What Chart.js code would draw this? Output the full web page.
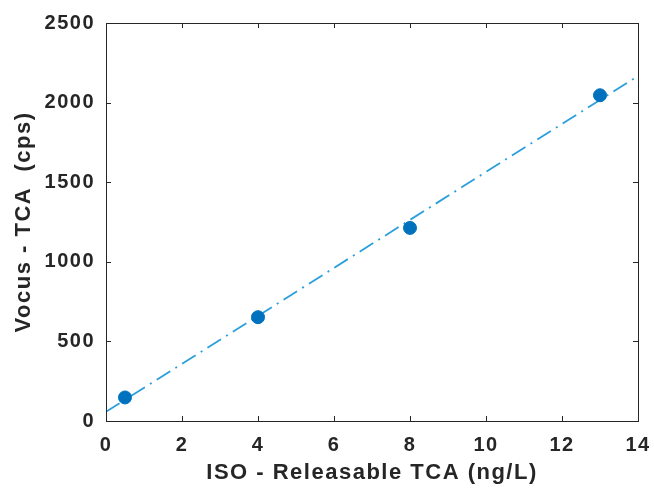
<!DOCTYPE html>
<html>
<head>
<meta charset="utf-8">
<script src="https://cdn.jsdelivr.net/npm/chart.js@4/dist/chart.umd.min.js"></script>
<style>
  html, body { margin: 0; padding: 0; background: #fff; }
  #wrap { width: 654px; height: 488px; }
</style>
</head>
<body>
<div id="wrap"><canvas id="chart" width="654" height="488"></canvas></div>
<script>
// measured points
const isoTca = [0.5, 4, 8, 13];
const vocusTca = [148, 652, 1213, 2046];

// fitted line, end points
const fitX = [0, 14];
const fitY = [58, 2167];

const xTicks = [0, 2, 4, 6, 8, 10, 12, 14];
const yTicks = [0, 500, 1000, 1500, 2000, 2500];

const axisColor = '#262626';
const family = '"Liberation Sans", Arial, sans-serif';
const tickFont = { family: family, size: 20, weight: 'bold' };
const titleFont = { family: family, size: 22, weight: 'bold' };

// text in the reference is set a little loose
const spacingPlugin = {
    id: 'spacing',
    beforeInit(chart) { chart.ctx.letterSpacing = '1.5px'; },
    beforeDraw(chart) { chart.ctx.letterSpacing = '1.5px'; },
};

// MATLAB style box with inward ticks on all four sides
const boxPlugin = {
    id: 'box',
    afterDraw(chart) {
        const { ctx, chartArea: a, scales } = chart;
        const len = 5;
        ctx.save();
        ctx.strokeStyle = axisColor;
        ctx.lineWidth = 1;
        ctx.beginPath();
        xTicks.forEach(v => {
            const px = Math.round(scales.x.getPixelForValue(v)) + 0.5;
            ctx.moveTo(px, a.bottom);
            ctx.lineTo(px, a.bottom - len);
            ctx.moveTo(px, a.top);
            ctx.lineTo(px, a.top + len);
        });
        yTicks.forEach(v => {
            const py = Math.round(scales.y.getPixelForValue(v)) + 0.5;
            ctx.moveTo(a.left, py);
            ctx.lineTo(a.left + len, py);
            ctx.moveTo(a.right, py);
            ctx.lineTo(a.right - len, py);
        });
        ctx.stroke();
        ctx.strokeRect(Math.round(a.left) + 0.5, Math.round(a.top) + 0.5,
            Math.round(a.right - a.left), Math.round(a.bottom - a.top));
        ctx.restore();
    }
};

new Chart(document.getElementById('chart'), {
    type: 'scatter',
    data: {
        datasets: [
            {
                label: 'data',
                data: isoTca.map((x, i) => ({ x: x, y: vocusTca[i] })),
                backgroundColor: '#0072BD',
                borderColor: '#0072BD',
                pointRadius: 6.5,
                pointHoverRadius: 6.5,
                order: 0,
            },
            {
                label: 'fit',
                data: fitX.map((x, i) => ({ x: x, y: fitY[i] })),
                showLine: true,
                borderColor: '#2B9FDC',
                borderWidth: 1.8,
                borderDash: [16, 6, 2, 6],
                pointRadius: 0,
                order: 1,
            },
        ],
    },
    options: {
        responsive: false,
        animation: false,
        layout: { padding: { top: 23, right: 16, left: 0, bottom: 0 } },
        plugins: {
            legend: { display: false },
            tooltip: { enabled: false },
        },
        scales: {
            x: {
                type: 'linear',
                min: 0,
                max: 14,
                afterBuildTicks: s => { s.ticks = xTicks.map(v => ({ value: v })); },
                afterFit: s => { s.height = 67; s.paddingLeft = 0; s.paddingRight = 0; },
                grid: { display: false, drawTicks: false },
                border: { display: false },
                ticks: { color: axisColor, font: tickFont, padding: 12, maxRotation: 0, callback: v => String(v) },
                title: {
                    display: true,
                    text: 'ISO - Releasable TCA (ng/L)',
                    color: axisColor,
                    font: titleFont,
                    padding: { top: 0, bottom: 2 },
                },
            },
            y: {
                type: 'linear',
                min: 0,
                max: 2500,
                afterBuildTicks: s => { s.ticks = yTicks.map(v => ({ value: v })); },
                afterFit: s => { s.width = 106; s.paddingTop = 0; s.paddingBottom = 0; },
                grid: { display: false, drawTicks: false },
                border: { display: false },
                ticks: { color: axisColor, font: tickFont, padding: 11, callback: v => String(v) },
                title: {
                    display: true,
                    text: 'Vocus - TCA  (cps)',
                    color: axisColor,
                    font: titleFont,
                    padding: { top: 11, bottom: 0 },
                },
            },
        },
    },
    plugins: [spacingPlugin, boxPlugin],
});
</script>
</body>
</html>
